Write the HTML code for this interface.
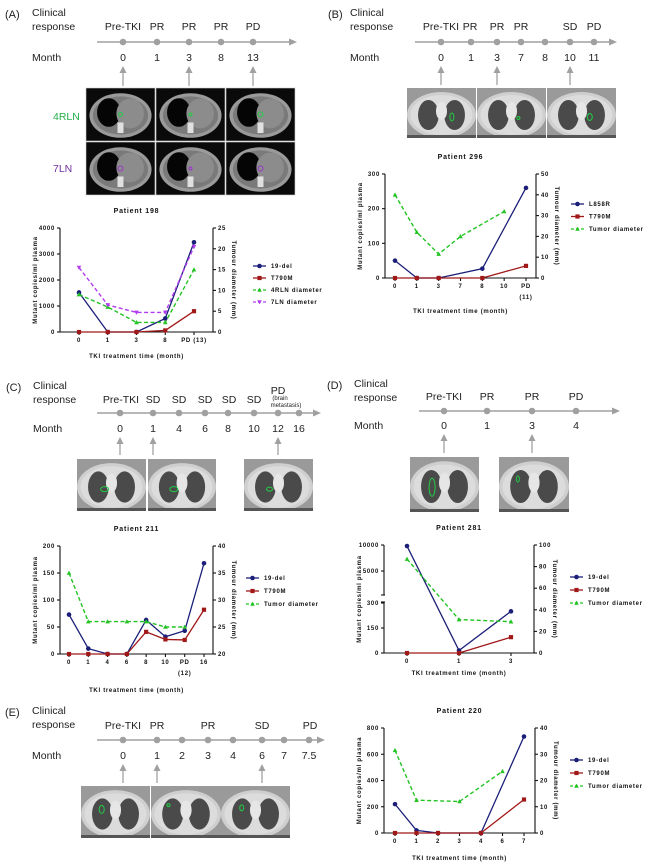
<!DOCTYPE html>
<html><head><meta charset="utf-8">
<style>
html,body{margin:0;padding:0;background:#fff;}
svg{display:block;font-family:"Liberation Sans",sans-serif;}
.big{font-size:10.5px;fill:#222;}
.ch{font-size:6px;font-weight:bold;fill:#111;letter-spacing:0.7px;}
.tt{font-size:7px;font-weight:bold;fill:#111;letter-spacing:0.8px;}
</style></head>
<body>
<svg id="fig" width="650" height="868" viewBox="0 0 650 868"></svg>
<script>
// ---------- chart data ----------
const a_cats = ["0","1","3","8","PD (13)"];
const a_del = [1520, 0, 0, 520, 3450];
const a_t790 = [0, 0, 0, 60, 800];
const a_4rln = [9, 6, 2.3, 2.3, 15];
const a_7ln = [15.5, 6.5, 4.7, 4.7, 20.5];
const a_lt = [0,1000,2000,3000,4000];
const a_rt = [0,5,10,15,20,25];

const b_cats = ["0","1","3","7","8","10","PD\n(11)"];
const b_l858 = [50, 0, 0, null, 27, null, 260];
const b_t790 = [0, 0, 0, null, 0, null, 35];
const b_tum = [40, 22, 11.5, 20, null, 32, null];
const b_lt = [0,100,200,300];
const b_rt = [0,10,20,30,40,50];

const c_cats = ["0","1","4","6","8","10","PD\n(12)","16"];
const c_del = [73, 10, 0, 0, 63, 32, 43, 168];
const c_t790 = [0, 0, 0, 0, 41, 27, 26, 82];
const c_tum = [35, 26, 26, 26, 26, 25, 25, null];
const c_lt = [0,50,100,150,200];
const c_rt = [20,25,30,35,40];

const d_cats = ["0","1","3"];
const d_del = [9800, 15, 250];
const d_t790 = [0, 0, 95];
const d_tum = [87, 31, 29];
const d_lt = [0,150,300,5000,10000];
const d_rt = [0,20,40,60,80,100];

const e_cats = ["0","1","2","3","4","6","7"];
const e_del = [220, 20, 0, null, 0, null, 735];
const e_t790 = [0, 0, 0, null, 0, null, 255];
const e_tum = [31.5, 12.5, null, 12, null, 23.5, null];
const e_lt = [0,200,400,600,800];
const e_rt = [0,10,20,30,40];

const NS = "http://www.w3.org/2000/svg";
const fig = document.getElementById('fig');
function mk(tag, attrs, parent){
  const e = document.createElementNS(NS, tag);
  for (const k in attrs) e.setAttribute(k, attrs[k]);
  (parent||fig).appendChild(e);
  return e;
}
function txt(x,y,s,cls,parent,anchor,extra){
  const t = mk('text', Object.assign({x:x,y:y,class:cls,'text-anchor':anchor||'start'}, extra||{}), parent);
  t.textContent = s;
  return t;
}

// ---------- timelines ----------
function timeline(o){
  const g = mk('g',{});
  
  
  const pl = txt(o.px, o.clinY+2, o.label, 'big', g);
  
  
  pl.setAttribute('style','font-size:11px');
  const c1 = txt(o.cx, o.clinY, 'Clinical', 'big', g);
  
  
  txt(o.cx, o.clinY+14, 'response', 'big', g);
  const line = mk('line',{x1:o.lx1,y1:o.ly,x2:o.lx2-6,y2:o.ly,stroke:'#a0a0a0','stroke-width':1.5},g);
  
  
  mk('polygon',{points:`${o.lx2},${o.ly} ${o.lx2-8},${o.ly-3.5} ${o.lx2-8},${o.ly+3.5}`,fill:'#a0a0a0'},g);
  o.dots.forEach(x=>{
    const d = mk('circle',{cx:x,cy:o.ly,r:3.3,fill:'#a0a0a0'},g);
    
    
  });
  o.resp.forEach(r=>{
    const t = txt(r[0], r[2]||o.respY, r[1], 'big', g, 'middle');
    
    
  });
  const m = txt(o.cx, o.monY, 'Month', 'big', g);
  
  
  o.months.forEach((s,i)=>{
    const t = txt(o.dots[i], o.monY, s, 'big', g, 'middle');
    
    
  });
  o.arrows.forEach(x=>{
    const a = mk('g',{},g);
    
    
    mk('line',{x1:x,y1:o.ay2,x2:x,y2:o.ay1+5,stroke:'#a0a0a0','stroke-width':1.3},a);
    mk('polygon',{points:`${x},${o.ay1} ${x-3.5},${o.ay1+7} ${x+3.5},${o.ay1+7}`,fill:'#a0a0a0'},a);
  });
}
function ct(x,y,w,h,dark,lesion){
  const g = mk('g',{});
  
  
  const cx=x+w/2, cy=y+h/2;
  if (dark){
    mk('rect',{x:x,y:y,width:w,height:h,fill:'#0a0a0a',stroke:'#ccc','stroke-width':0.6},g);
    mk('ellipse',{cx:cx,cy:cy+1,rx:w*0.45,ry:h*0.42,fill:'#9a9a9a'},g);
    mk('ellipse',{cx:cx,cy:cy+1,rx:w*0.40,ry:h*0.36,fill:'#7a7a7a'},g);
    mk('ellipse',{cx:cx-w*0.17,cy:cy-2,rx:w*0.17,ry:h*0.27,fill:'#050505'},g);
    mk('ellipse',{cx:cx+w*0.14,cy:cy-1,rx:w*0.2,ry:h*0.28,fill:'#8c8c8c'},g);
    mk('rect',{x:cx-3,y:cy+h*0.15,width:6,height:h*0.2,fill:'#e0e0e0'},g);
  } else {
    mk('rect',{x:x,y:y,width:w,height:h,fill:'#9a9a9a'},g);
    mk('ellipse',{cx:cx,cy:cy+2,rx:w*0.5,ry:h*0.46,fill:'#cfcfcf'},g);
    mk('ellipse',{cx:cx,cy:cy+2,rx:w*0.45,ry:h*0.4,fill:'#dcdcdc'},g);
    mk('ellipse',{cx:cx-w*0.19,cy:cy+2,rx:w*0.15,ry:h*0.3,fill:'#4a4a4a'},g);
    mk('ellipse',{cx:cx+w*0.19,cy:cy+2,rx:w*0.15,ry:h*0.3,fill:'#4a4a4a'},g);
    mk('ellipse',{cx:cx,cy:cy-2,rx:w*0.08,ry:h*0.18,fill:'#e6e6e6'},g);
    mk('rect',{x:x,y:y+h-3,width:w,height:3,fill:'#555'},g);
  }
  if (lesion) mk('ellipse',{cx:x+lesion[0]*w,cy:y+lesion[1]*h,rx:lesion[2],ry:lesion[3],fill:'none',stroke:lesion[4],'stroke-width':1},g);
}

// Panel A
timeline({id:'a',label:'(A)',px:5,cx:32,clinY:16,respY:30,lx1:97,lx2:297,ly:42,
  dots:[123,157,189,221,253],resp:[[123,'Pre-TKI'],[157,'PR'],[189,'PR'],[221,'PR'],[253,'PD']],
  monY:61,months:['0','1','3','8','13'],arrows:[123,189,253],ay1:66,ay2:86});
[86,156,226].forEach((x,i)=>ct(x,88,69,53,true,[0.5,0.5,[2,1.5,2.5][i],[2,1.5,2.5][i],'#22cc44']));
[86,156,226].forEach((x,i)=>ct(x,142,69,53,true,[0.5,0.5,[2.5,1.5,2.5][i],[2.5,1.5,2.5][i],'#9933cc']));
let t = txt(53,120,'4RLN','big',null,'start',{style:'fill:#22b04a'});


t = txt(53,172,'7LN','big',null,'start',{style:'fill:#7030a0'});



// Panel B
timeline({id:'b',label:'(B)',px:328,cx:350,clinY:16,respY:30,lx1:415,lx2:617,ly:42,
  dots:[441,471,497,521,545,570,594],resp:[[441,'Pre-TKI'],[470,'PR'],[497,'PR'],[521,'PR'],[570,'SD'],[594,'PD']],
  monY:61,months:['0','1','3','7','8','10','11'],arrows:[441,497,570],ay1:66,ay2:85});
ct(407,88,69,50,false,[0.65,0.58,2,4,'#22cc44']);
ct(477,88,69,50,false,[0.6,0.6,1.5,1.5,'#22cc44']);
ct(547,88,69,50,false,[0.62,0.58,2.5,3.5,'#22cc44']);

// Panel C
timeline({id:'c',label:'(C)',px:6,cx:33,clinY:389,respY:403,lx1:97,lx2:321,ly:413,
  dots:[120,153,179,205,228,254,278,299],resp:[[121,'Pre-TKI'],[153,'SD'],[179,'SD'],[205,'SD'],[229,'SD'],[254,'SD'],[278,'PD',394]],
  monY:432,months:['0','1','4','6','8','10','12','16'],arrows:[120,153,278],ay1:437,ay2:455});
t = txt(280,400,'(brain','big',null,'middle',{style:'font-size:6px'});


txt(286,407,'metastasis)','big',null,'middle',{style:'font-size:6px'});
ct(77,459,69,52,false,[0.4,0.58,4,2.5,'#22cc44']);
ct(148,459,68,52,false,[0.38,0.58,4,2.5,'#22cc44']);
ct(244,459,69,52,false,[0.37,0.58,3,2,'#22cc44']);

// Panel D
timeline({id:'d',label:'(D)',px:327,cx:354,clinY:387,respY:400,lx1:419,lx2:620,ly:411,
  dots:[444,487,532,576],resp:[[444,'Pre-TKI'],[487,'PR'],[532,'PR'],[576,'PD']],
  monY:429,months:['0','1','3','4'],arrows:[444,532],ay1:434,ay2:453});
ct(410,457,69,55,false,[0.32,0.55,3,9,'#22cc44']);
ct(499,457,70,55,false,[0.27,0.4,1.5,3,'#22cc44']);

// Panel E
timeline({id:'e',label:'(E)',px:5,cx:32,clinY:714,respY:729,lx1:97,lx2:325,ly:740,
  dots:[123,157,182,208,233,262,284,309],resp:[[123,'Pre-TKI'],[157,'PR'],[208,'PR'],[262,'SD'],[310,'PD']],
  monY:759,months:['0','1','2','3','4','6','7','7.5'],arrows:[123,157,262],ay1:764,ay2:783});
ct(81,786,69,52,false,[0.3,0.45,2.5,4,'#22cc44']);
ct(151,786,70,52,false,[0.25,0.37,1.5,1.5,'#22cc44']);
ct(221,786,69,52,false,[0.3,0.42,2,3,'#22cc44']);

// ---------- charts ----------
const NAVY='#1b1f78', RED='#a01818', GREEN='#22c322', PURPLE='#b23cf0';
function marker(g,type,x,y,color){
  let m;
  if (type==='circle') m = mk('circle',{cx:x,cy:y,r:2.3,fill:color},g);
  else if (type==='square') m = mk('rect',{x:x-2.1,y:y-2.1,width:4.2,height:4.2,fill:color},g);
  else if (type==='tri') m = mk('polygon',{points:`${x},${y-2.4} ${x-2.3},${y+1.8} ${x+2.3},${y+1.8}`,fill:color},g);
  else m = mk('polygon',{points:`${x},${y+2.4} ${x-2.3},${y-1.8} ${x+2.3},${y-1.8}`,fill:color},g);
  return m;
}
function chart(o){
  const g = mk('g',{});
  
  
  const n = o.cats.length;
  const X = i => o.L + o.pad + i*(o.R - o.L - 2*o.pad)/(n-1);
  const YL = o.yl || (v => o.B - v/o.lt[o.lt.length-1]*(o.B-o.T));
  const rmin=o.rt[0], rmax=o.rt[o.rt.length-1];
  const YR = v => o.B - (v-rmin)/(rmax-rmin)*(o.B-o.T);
  const ti = txt((o.L+o.R)/2, o.T-15, o.title, 'tt', g, 'middle');
  
  
  const ax = mk('g',{stroke:'#111','stroke-width':1.1},g);
  
  
  if (o.brk){
    mk('line',{x1:o.L,y1:o.T,x2:o.L,y2:o.brk[0]},ax);
    mk('line',{x1:o.L,y1:o.brk[1],x2:o.L,y2:o.B},ax);
    mk('line',{x1:o.L-3,y1:o.brk[0],x2:o.L+1,y2:o.brk[0]},ax);
    mk('line',{x1:o.L-3,y1:o.brk[1],x2:o.L+1,y2:o.brk[1]},ax);
  } else mk('line',{x1:o.L,y1:o.T,x2:o.L,y2:o.B},ax);
  mk('line',{x1:o.R,y1:o.T,x2:o.R,y2:o.B},ax);
  mk('line',{x1:o.L,y1:o.B,x2:o.R,y2:o.B},ax);
  o.lt.forEach(v=>{
    const y=YL(v);
    mk('line',{x1:o.L-3,y1:y,x2:o.L,y2:y},ax);
    const tl = txt(o.L-5,y+2,String(v),'ch',g,'end');
    
    
  });
  o.rt.forEach(v=>{
    const y=YR(v);
    mk('line',{x1:o.R,y1:y,x2:o.R+3,y2:y},ax);
    const tl = txt(o.R+5,y+2,String(v),'ch',g,'start');
    
    
  });
  o.cats.forEach((c,i)=>{
    const x=X(i);
    mk('line',{x1:x,y1:o.B,x2:x,y2:o.B+3},ax);
    c.split('\n').forEach((s,k)=>{
      const tl = txt(x,o.B+10+k*11,s,'ch',g,'middle');
      
      
    });
  });
  const yt = txt(0,0,'Mutant copies/ml plasma','ch',g,'middle',{transform:`translate(${o.L-23},${(o.T+o.B)/2}) rotate(-90)`});
  
  
  const yr = txt(0,0,'Tumour diameter (mm)','ch',g,'middle',{transform:`translate(${o.R+19},${(o.T+o.B)/2}) rotate(90)`});
  
  
  const xt = txt((o.L+o.R)/2,o.xtY,'TKI treatment time (month)','ch',g,'middle');
  
  
  o.series.forEach((s,si)=>{
    const sg = mk('g',{},g);
    
    
    const Y = s.axis==='R'?YR:YL;
    const pts=[];
    s.vals.forEach((v,i)=>{ if(v!==null && v!==undefined) pts.push([X(i),Y(v)]); });
    const pl = mk('polyline',{points:pts.map(p=>p.join(',')).join(' '),fill:'none',stroke:s.color,'stroke-width':s.dash?1.4:1.3,'stroke-dasharray':s.dash?'4,2.5':'none'},sg);
    
    
    pts.forEach(p=>{
      const m = marker(sg,s.marker,p[0],p[1],s.color);
      
      
    });
    const ly = o.legY + si*o.legStep;
    const lg = mk('g',{},g);
    
    
    mk('line',{x1:o.legX,y1:ly,x2:o.legX+13,y2:ly,stroke:s.color,'stroke-width':1.3,'stroke-dasharray':s.dash?'3,2':'none'},lg);
    marker(lg,s.marker,o.legX+6.5,ly,s.color);
    txt(o.legX+18,ly+2,s.name,'ch',lg,'start');
  });
}

chart({id:'patient-198',title:'Patient 198',L:60,R:213,T:228,B:332,pad:19,cats:a_cats,lt:a_lt,rt:a_rt,xtY:358,
  legX:253,legY:266,legStep:12,series:[
  {name:'19-del',vals:a_del,axis:'L',color:NAVY,marker:'circle'},
  {name:'T790M',vals:a_t790,axis:'L',color:RED,marker:'square'},
  {name:'4RLN diameter',vals:a_4rln,axis:'R',color:GREEN,marker:'tri',dash:true},
  {name:'7LN diameter',vals:a_7ln,axis:'R',color:PURPLE,marker:'dtri',dash:true}]});

chart({id:'patient-296',title:'Patient 296',L:385,R:536,T:174,B:278,pad:10,cats:b_cats,lt:b_lt,rt:b_rt,xtY:313,
  legX:571,legY:204,legStep:12.5,series:[
  {name:'L858R',vals:b_l858,axis:'L',color:NAVY,marker:'circle'},
  {name:'T790M',vals:b_t790,axis:'L',color:RED,marker:'square'},
  {name:'Tumor diameter',vals:b_tum,axis:'R',color:GREEN,marker:'tri',dash:true}]});

chart({id:'patient-211',title:'Patient 211',L:60,R:213,T:546,B:654,pad:9,cats:c_cats,lt:c_lt,rt:c_rt,xtY:692,
  legX:246,legY:578,legStep:13,series:[
  {name:'19-del',vals:c_del,axis:'L',color:NAVY,marker:'circle'},
  {name:'T790M',vals:c_t790,axis:'L',color:RED,marker:'square'},
  {name:'Tumor diameter',vals:c_tum,axis:'R',color:GREEN,marker:'tri',dash:true}]});

chart({id:'patient-281',title:'Patient 281',L:384,R:534,T:545,B:653,pad:23,cats:d_cats,lt:d_lt,rt:d_rt,xtY:675,
  brk:[595,602],
  yl: v => v<=300 ? 653 - v/300*50 : 597 - v/10000*52,
  legX:570,legY:577,legStep:13,series:[
  {name:'19-del',vals:d_del,axis:'L',color:NAVY,marker:'circle'},
  {name:'T790M',vals:d_t790,axis:'L',color:RED,marker:'square'},
  {name:'Tumor diameter',vals:d_tum,axis:'R',color:GREEN,marker:'tri',dash:true}]});

chart({id:'patient-220',title:'Patient 220',L:384,R:535,T:728,B:833,pad:11,cats:e_cats,lt:e_lt,rt:e_rt,xtY:860,
  legX:570,legY:760,legStep:13,series:[
  {name:'19-del',vals:e_del,axis:'L',color:NAVY,marker:'circle'},
  {name:'T790M',vals:e_t790,axis:'L',color:RED,marker:'square'},
  {name:'Tumor diameter',vals:e_tum,axis:'R',color:GREEN,marker:'tri',dash:true}]});
</script>
</body></html>
